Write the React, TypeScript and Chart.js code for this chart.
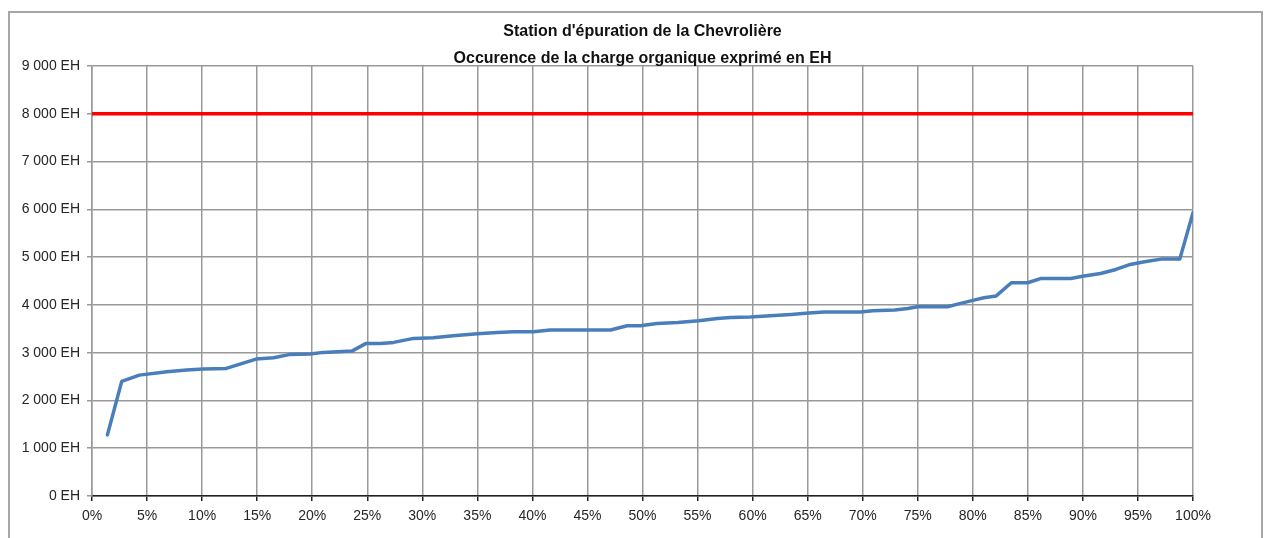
import React, { useEffect, useRef } from "react";
import { Chart, registerables } from "chart.js";

Chart.register(...registerables);

const titleLines = [
  "Station d'épuration de la Chevrolière",
  "Occurence de la charge organique exprimé en EH",
];

// occurrence (% of days) and organic load (EH)
const occurrencePct = [
  1.4, 2.7, 4.3, 6.8, 8.6, 10.1, 12.2, 14.9, 16.5, 18.0, 19.8, 21.0, 23.6, 24.9,
  26.2, 27.4, 29.2, 31.0, 32.8, 35.0, 36.8, 38.3, 40.1, 41.6, 47.1, 48.6, 49.8,
  51.3, 53.2, 55.1, 56.8, 58.0, 59.8, 61.6, 63.5, 65.1, 66.5, 69.8, 70.9, 72.9,
  74.1, 75.0, 77.7, 78.9, 80.1, 81.0, 82.1, 83.5, 85.0, 86.2, 88.9, 90.1, 91.6,
  93.0, 94.3, 95.6, 97.1, 98.8, 100,
];
const chargeEH = [
  1280, 2400, 2530, 2600, 2636, 2657, 2670, 2866, 2894, 2964, 2970, 3006, 3033,
  3194, 3194, 3215, 3299, 3312, 3354, 3396, 3424, 3438, 3438, 3473, 3473, 3563,
  3563, 3612, 3633, 3668, 3717, 3738, 3745, 3773, 3801, 3828, 3849, 3849, 3877,
  3891, 3926, 3961, 3961, 4031, 4100, 4149, 4184, 4463, 4463, 4554, 4554, 4603,
  4658, 4742, 4847, 4902, 4958, 4958, 5930,
];

// nominal capacity line
const capacityPct = [0, 100];
const capacityEH = [8000, 8000];

const yMin = 0;
const yMax = 9000;
const yStep = 1000;
const xMin = 0;
const xMax = 100;
const xStep = 5;

const FONT = "'Liberation Sans', Arial, sans-serif";

function formatEH(v: number): string {
  const s = Math.round(v).toString();
  const withSep = s.replace(/\B(?=(\d{3})+(?!\d))/g, " ");
  return withSep + " EH";
}

export default function App() {
  const canvasRef = useRef<HTMLCanvasElement | null>(null);

  useEffect(() => {
    const canvas = canvasRef.current;
    if (!canvas) return;
    const chart = new Chart(canvas, {
      type: "line",
      data: {
        datasets: [
          {
            label: "Capacité",
            data: capacityPct.map((x, i) => ({ x, y: capacityEH[i] })),
            borderColor: "#ff0000",
            borderWidth: 3.5,
            pointRadius: 0,
            tension: 0,
            fill: false,
          },
          {
            label: "Charge organique",
            data: occurrencePct.map((x, i) => ({ x, y: chargeEH[i] })),
            borderColor: "#4a7ebb",
            borderWidth: 3.5,
            pointRadius: 0,
            tension: 0,
            fill: false,
            borderJoinStyle: "round",
            borderCapStyle: "round",
          },
        ],
      },
      options: {
        animation: false,
        responsive: false,
        maintainAspectRatio: false,
        layout: { padding: { left: 0, right: 72, top: 0, bottom: 0 } },
        plugins: {
          legend: { display: false },
          tooltip: { enabled: false },
          title: {
            display: true,
            fullSize: false,
            text: titleLines,
            color: "#111",
            font: { family: FONT, size: 16, weight: "bold", lineHeight: 1.7 },
            padding: { top: 18, bottom: -6.4 },
          },
        },
        scales: {
          x: {
            type: "linear",
            min: xMin,
            max: xMax,
            afterFit: (s: any) => {
              s.height = 42;
            },
            ticks: {
              stepSize: xStep,
              autoSkip: false,
              maxRotation: 0,
              padding: 7,
              color: "#262626",
              font: { family: FONT, size: 14 },
              callback: (v: any) => v + "%",
            },
            grid: {
              color: "#999",
              lineWidth: 1.5,
              tickLength: 5,
              tickColor: "#222",
            },
            border: { color: "#222", width: 1.5 },
          },
          y: {
            type: "linear",
            min: yMin,
            max: yMax,
            afterFit: (s: any) => {
              s.width = 92;
            },
            ticks: {
              stepSize: yStep,
              padding: 7,
              color: "#262626",
              font: { family: FONT, size: 14 },
              callback: (v: any) => formatEH(Number(v)),
            },
            grid: {
              color: "#999",
              lineWidth: 1.5,
              tickLength: 5,
              tickColor: "#999",
            },
            border: { color: "#999", width: 1.5 },
          },
        },
      },
    });
    return () => chart.destroy();
  }, []);

  return (
    <div
      style={{
        position: "absolute",
        left: 0,
        top: 0,
        width: 1265,
        height: 538,
        overflow: "hidden",
        background: "#fff",
      }}
    >
      <div
        style={{
          position: "absolute",
          left: 8,
          top: 11,
          width: 1255,
          height: 600,
          border: "2px solid #a6a6a6",
          boxSizing: "border-box",
        }}
      />
      <canvas
        ref={canvasRef}
        width={1265}
        height={538}
        style={{ position: "absolute", left: 0, top: 0, width: 1265, height: 538 }}
      />
    </div>
  );
}
